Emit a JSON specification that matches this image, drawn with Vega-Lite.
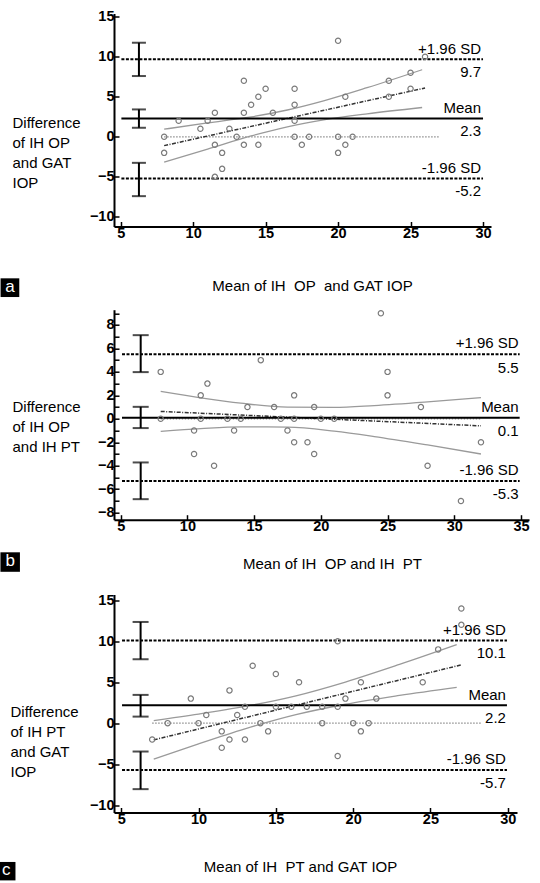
{
  "$schema": "https://vega.github.io/schema/vega-lite/v6.json",
  "background": "white",
  "padding": {"left": -3, "top": 8.5, "right": 0, "bottom": 0},
  "config": {
    "view": {"stroke": null},
    "font": "Liberation Sans",
    "axis": {
      "grid": false, "domainColor": "black", "domainWidth": 2, "tickColor": "black", "tickWidth": 1.5, "tickSize": -5,
      "labelColor": "black", "titleColor": "black", "labelFont": "Liberation Sans", "titleFont": "Liberation Sans",
      "labelFontSize": 14.5, "labelFontWeight": "bold", "titleFontSize": 15, "titleFontWeight": "normal", "labelPadding": 5
    },
    "text": {"font": "Liberation Sans", "fontSize": 15, "color": "black"}
  },
  "spacing": 19,
  "vconcat": [
    {
      "spacing": 10.2,
      "vconcat": [
        {
          "width": 377, "height": 213,
          "encoding": {
            "x": {"field": "x", "type": "quantitative", "scale": {"domain": [4.54, 30.55], "nice": false, "zero": false},
              "axis": {"values": [5, 10, 15, 20, 25, 30], "title": "Mean of IH\u00a0 OP\u00a0 and GAT IOP", "titleX": 198, "titleY": 59, "titleBaseline": "middle"}},
            "y": {"field": "y", "type": "quantitative", "scale": {"domain": [-11.2, 15.4], "nice": false, "zero": false},
              "axis": {"values": [-10, -5, 0, 5, 10, 15], "title": ["Difference", "of IH OP", "and GAT", "IOP"], "titleAngle": 0, "titleAlign": "left", "titleBaseline": "middle", "titleX": -102, "titleY": 109, "titleLineHeight": 20}}
          },
          "layer": [
            {"data": {"values": [{"x": 8, "x2": 27, "y": 0}]}, "mark": {"type": "rule", "color": "#8c8c8c", "strokeWidth": 1.2, "strokeDash": [1.5, 1.5]}, "encoding": {"x2": {"field": "x2"}}},
            {"data": {"values": [
              {"x": 8, "y": 0.95, "curve": "upper"}, {"x": 11, "y": 1.73, "curve": "upper"}, {"x": 14, "y": 2.49, "curve": "upper"}, {"x": 16.5, "y": 3.35, "curve": "upper"}, {"x": 19, "y": 4.49, "curve": "upper"}, {"x": 22, "y": 6.13, "curve": "upper"}, {"x": 25.8, "y": 8.38, "curve": "upper"},
              {"x": 8, "y": -3.15, "curve": "lower"}, {"x": 11, "y": -1.53, "curve": "lower"}, {"x": 14, "y": 0.11, "curve": "lower"}, {"x": 16.5, "y": 1.25, "curve": "lower"}, {"x": 19, "y": 2.11, "curve": "lower"}, {"x": 22, "y": 2.87, "curve": "lower"}, {"x": 25.8, "y": 3.66, "curve": "lower"}
            ]}, "mark": {"type": "line", "color": "#9a9a9a", "strokeWidth": 1.3, "interpolate": "monotone"}, "encoding": {"detail": {"field": "curve"}}},
            {"data": {"values": [{"x": 8, "y": -1.1}, {"x": 26, "y": 6.1}]}, "mark": {"type": "line", "color": "#333333", "strokeWidth": 1.5, "strokeDash": [4, 1.5, 1, 1.5]}, "encoding": {}},
            {"data": {"values": [
              {"y": 9.7, "x1": 5.05, "x2": 30, "top": "+1.96 SD", "bottom": "9.7", "kind": "limit"},
              {"y": 2.3, "x1": 5.05, "x2": 30, "top": "Mean", "bottom": "2.3", "kind": "mean"},
              {"y": -5.2, "x1": 5.05, "x2": 30, "top": "-1.96 SD", "bottom": "-5.2", "kind": "limit"}
            ]}, "layer": [
              {"transform": [{"filter": "datum.kind === 'limit'"}], "mark": {"type": "rule", "color": "black", "strokeWidth": 2, "strokeDash": [3, 1.5]}, "encoding": {"x": {"field": "x1", "type": "quantitative"}, "x2": {"field": "x2"}}},
              {"transform": [{"filter": "datum.kind === 'mean'"}], "mark": {"type": "rule", "color": "black", "strokeWidth": 2}, "encoding": {"x": {"field": "x1", "type": "quantitative"}, "x2": {"field": "x2"}}},
              {"mark": {"type": "text", "align": "right", "baseline": "middle", "dx": -2, "dy": -10}, "encoding": {"x": {"field": "x2", "type": "quantitative"}, "text": {"field": "top"}}},
              {"mark": {"type": "text", "align": "right", "baseline": "middle", "dx": -2, "dy": 13}, "encoding": {"x": {"field": "x2", "type": "quantitative"}, "text": {"field": "bottom"}}}
            ]},
            {"data": {"values": [{"x": 6.26, "y": 7.59, "y2": 11.75}, {"x": 6.26, "y": 1.13, "y2": 3.42}, {"x": 6.26, "y": -7.41, "y2": -3.25}]}, "layer": [
              {"mark": {"type": "rule", "color": "black", "strokeWidth": 2}, "encoding": {"y2": {"field": "y2"}}},
              {"mark": {"type": "tick", "orient": "horizontal", "color": "black", "thickness": 2, "size": 14}, "encoding": {}},
              {"mark": {"type": "tick", "orient": "horizontal", "color": "black", "thickness": 2, "size": 14}, "encoding": {"y": {"field": "y2", "type": "quantitative"}}}
            ]},
            {"data": {"values": [
              {"x": 8, "y": 0}, {"x": 8, "y": -2}, {"x": 9, "y": 2}, {"x": 10.5, "y": 1}, {"x": 11, "y": 2}, {"x": 11.5, "y": 3}, {"x": 11.5, "y": -1}, {"x": 11.5, "y": -5},
              {"x": 12, "y": -2}, {"x": 12, "y": -4}, {"x": 12.5, "y": 1}, {"x": 13, "y": 0}, {"x": 13.5, "y": 7}, {"x": 13.5, "y": 3}, {"x": 13.5, "y": -1}, {"x": 14, "y": 4},
              {"x": 14.5, "y": 5}, {"x": 14.5, "y": -1}, {"x": 15, "y": 6}, {"x": 15.5, "y": 3}, {"x": 17, "y": 6}, {"x": 17, "y": 4}, {"x": 17, "y": 2}, {"x": 17, "y": 0},
              {"x": 17.5, "y": -1}, {"x": 18, "y": 0}, {"x": 20, "y": 12}, {"x": 20, "y": 0}, {"x": 20, "y": -2}, {"x": 20.5, "y": 5}, {"x": 20.5, "y": -1}, {"x": 21, "y": 0},
              {"x": 23.5, "y": 7}, {"x": 23.5, "y": 5}, {"x": 25, "y": 8}, {"x": 25, "y": 6}, {"x": 26, "y": 10}
            ]}, "mark": {"type": "point", "shape": "circle", "filled": false, "size": 28, "stroke": "#7a7a7a", "strokeWidth": 1.2, "opacity": 1}},
            {"data": {"values": [{"label": "a", "x": -2.64, "y": -18.84}]}, "layer": [
              {"mark": {"type": "point", "shape": "square", "filled": true, "color": "black", "opacity": 1, "size": 350, "strokeWidth": 0}},
              {"mark": {"type": "text", "color": "white", "fontSize": 17, "align": "center", "baseline": "middle", "dy": -1}, "encoding": {"text": {"field": "label"}}}
            ]}
          ]
        },
        {
          "width": 415, "height": 210,
          "encoding": {
            "x": {"field": "x", "type": "quantitative", "scale": {"domain": [4.5, 35.6], "nice": false, "zero": false},
              "axis": {"values": [5, 10, 15, 20, 25, 30, 35], "title": "Mean of IH\u00a0 OP and IH\u00a0 PT", "titleX": 218, "titleY": 44, "titleBaseline": "middle"}},
            "y": {"field": "y", "type": "quantitative", "scale": {"domain": [-8.6, 9.3], "nice": false, "zero": false},
              "axis": {"values": [-8, -7, -6, -5, -4, -3, -2, -1, 0, 1, 2, 3, 4, 5, 6, 7, 8, 9], "labelExpr": "datum.value % 2 === 0 ? datum.label : ''", "title": ["Difference", "of IH OP", "and IH PT"], "titleAngle": 0, "titleAlign": "left", "titleBaseline": "middle", "titleX": -102, "titleY": 97, "titleLineHeight": 20}}
          },
          "layer": [
            {"data": {"values": [{"x": 8, "x2": 32, "y": 0}]}, "mark": {"type": "rule", "color": "#8c8c8c", "strokeWidth": 1.2, "strokeDash": [1.5, 1.5]}, "encoding": {"x2": {"field": "x2"}}},
            {"data": {"values": [
              {"x": 8, "y": 2.33, "curve": "upper"}, {"x": 11, "y": 1.79, "curve": "upper"}, {"x": 14, "y": 1.33, "curve": "upper"}, {"x": 17.5, "y": 0.99, "curve": "upper"}, {"x": 21, "y": 0.97, "curve": "upper"}, {"x": 24, "y": 1.13, "curve": "upper"}, {"x": 28, "y": 1.44, "curve": "upper"}, {"x": 32, "y": 1.8, "curve": "upper"},
              {"x": 8, "y": -1.07, "curve": "lower"}, {"x": 11, "y": -0.84, "curve": "lower"}, {"x": 14, "y": -0.69, "curve": "lower"}, {"x": 17.5, "y": -0.71, "curve": "lower"}, {"x": 21, "y": -1.05, "curve": "lower"}, {"x": 24, "y": -1.51, "curve": "lower"}, {"x": 28, "y": -2.23, "curve": "lower"}, {"x": 32, "y": -3.0, "curve": "lower"}
            ]}, "mark": {"type": "line", "color": "#9a9a9a", "strokeWidth": 1.3, "interpolate": "monotone"}, "encoding": {"detail": {"field": "curve"}}},
            {"data": {"values": [{"x": 8, "y": 0.63}, {"x": 32, "y": -0.6}]}, "mark": {"type": "line", "color": "#333333", "strokeWidth": 1.5, "strokeDash": [4, 1.5, 1, 1.5]}, "encoding": {}},
            {"data": {"values": [
              {"y": 5.5, "x1": 5.1, "x2": 34.9, "top": "+1.96 SD", "bottom": "5.5", "kind": "limit"},
              {"y": 0.1, "x1": 5.1, "x2": 34.9, "top": "Mean", "bottom": "0.1", "kind": "mean"},
              {"y": -5.3, "x1": 5.1, "x2": 34.9, "top": "-1.96 SD", "bottom": "-5.3", "kind": "limit"}
            ]}, "layer": [
              {"transform": [{"filter": "datum.kind === 'limit'"}], "mark": {"type": "rule", "color": "black", "strokeWidth": 2, "strokeDash": [3, 1.5]}, "encoding": {"x": {"field": "x1", "type": "quantitative"}, "x2": {"field": "x2"}}},
              {"transform": [{"filter": "datum.kind === 'mean'"}], "mark": {"type": "rule", "color": "black", "strokeWidth": 2}, "encoding": {"x": {"field": "x1", "type": "quantitative"}, "x2": {"field": "x2"}}},
              {"mark": {"type": "text", "align": "right", "baseline": "middle", "dx": -1, "dy": -11}, "encoding": {"x": {"field": "x2", "type": "quantitative"}, "text": {"field": "top"}}},
              {"mark": {"type": "text", "align": "right", "baseline": "middle", "dx": -1, "dy": 13.5}, "encoding": {"x": {"field": "x2", "type": "quantitative"}, "text": {"field": "bottom"}}}
            ]},
            {"data": {"values": [{"x": 6.5, "y": 3.98, "y2": 7.13}, {"x": 6.5, "y": -0.79, "y2": 1.02}, {"x": 6.5, "y": -6.85, "y2": -3.72}]}, "layer": [
              {"mark": {"type": "rule", "color": "black", "strokeWidth": 2}, "encoding": {"y2": {"field": "y2"}}},
              {"mark": {"type": "tick", "orient": "horizontal", "color": "black", "thickness": 2, "size": 16}, "encoding": {}},
              {"mark": {"type": "tick", "orient": "horizontal", "color": "black", "thickness": 2, "size": 16}, "encoding": {"y": {"field": "y2", "type": "quantitative"}}}
            ]},
            {"data": {"values": [
              {"x": 8, "y": 4}, {"x": 8, "y": 0}, {"x": 10.5, "y": -1}, {"x": 10.5, "y": -3}, {"x": 11, "y": 2}, {"x": 11, "y": 0}, {"x": 11.5, "y": 3}, {"x": 12, "y": -4},
              {"x": 13, "y": 0}, {"x": 13.5, "y": -1}, {"x": 14, "y": 0}, {"x": 14.5, "y": 1}, {"x": 15.5, "y": 5}, {"x": 16.5, "y": 1}, {"x": 17, "y": 0}, {"x": 17.5, "y": -1},
              {"x": 18, "y": 2}, {"x": 18, "y": 0}, {"x": 18, "y": -2}, {"x": 19, "y": -2}, {"x": 19.5, "y": 1}, {"x": 19.5, "y": -3}, {"x": 20, "y": 0}, {"x": 21, "y": 0},
              {"x": 24.5, "y": 9}, {"x": 25, "y": 4}, {"x": 25, "y": 2}, {"x": 27.5, "y": 1}, {"x": 28, "y": -4}, {"x": 30.5, "y": -7}, {"x": 32, "y": -2}
            ]}, "mark": {"type": "point", "shape": "circle", "filled": false, "size": 28, "stroke": "#7a7a7a", "strokeWidth": 1.2, "opacity": 1}},
            {"data": {"values": [{"label": "b", "x": -3.28, "y": -12.21}]}, "layer": [
              {"mark": {"type": "point", "shape": "square", "filled": true, "color": "black", "opacity": 1, "size": 380, "strokeWidth": 0}},
              {"mark": {"type": "text", "color": "white", "fontSize": 17, "align": "center", "baseline": "middle", "dy": -1}, "encoding": {"text": {"field": "label"}}}
            ]}
          ]
        }
      ]
    },
    {
      "width": 403, "height": 218,
      "encoding": {
        "x": {"field": "x", "type": "quantitative", "scale": {"domain": [4.53, 30.6], "nice": false, "zero": false},
          "axis": {"values": [5, 10, 15, 20, 25, 30], "title": "Mean of IH\u00a0 PT and GAT IOP", "titleX": 186, "titleY": 54, "titleBaseline": "middle"}},
        "y": {"field": "y", "type": "quantitative", "scale": {"domain": [-10.9, 15.7], "nice": false, "zero": false},
          "axis": {"values": [-10, -5, 0, 5, 10, 15], "title": ["Difference", "of IH PT", "and GAT", "IOP"], "titleAngle": 0, "titleAlign": "left", "titleBaseline": "middle", "titleX": -104, "titleY": 117, "titleLineHeight": 20}}
      },
      "layer": [
        {"data": {"values": [{"x": 7, "x2": 28.3, "y": 0}]}, "mark": {"type": "rule", "color": "#8c8c8c", "strokeWidth": 1.2, "strokeDash": [1.5, 1.5]}, "encoding": {"x2": {"field": "x2"}}},
        {"data": {"values": [
          {"x": 7.1, "y": 0.32, "curve": "upper"}, {"x": 10, "y": 1.11, "curve": "upper"}, {"x": 13, "y": 2.04, "curve": "upper"}, {"x": 16.3, "y": 3.34, "curve": "upper"}, {"x": 19.5, "y": 5.02, "curve": "upper"}, {"x": 23, "y": 7.16, "curve": "upper"}, {"x": 26.7, "y": 9.57, "curve": "upper"},
          {"x": 7.1, "y": -4.4, "curve": "lower"}, {"x": 10, "y": -2.52, "curve": "lower"}, {"x": 13, "y": -0.69, "curve": "lower"}, {"x": 16.3, "y": 1.04, "curve": "lower"}, {"x": 19.5, "y": 2.31, "curve": "lower"}, {"x": 23, "y": 3.39, "curve": "lower"}, {"x": 26.7, "y": 4.38, "curve": "lower"}
        ]}, "mark": {"type": "line", "color": "#9a9a9a", "strokeWidth": 1.3, "interpolate": "monotone"}, "encoding": {"detail": {"field": "curve"}}},
        {"data": {"values": [{"x": 7.1, "y": -2.04}, {"x": 27, "y": 7.11}]}, "mark": {"type": "line", "color": "#333333", "strokeWidth": 1.5, "strokeDash": [4, 1.5, 1, 1.5]}, "encoding": {}},
        {"data": {"values": [
          {"y": 10.1, "x1": 5.05, "x2": 29.95, "top": "+1.96 SD", "bottom": "10.1", "kind": "limit"},
          {"y": 2.2, "x1": 5.05, "x2": 29.95, "top": "Mean", "bottom": "2.2", "kind": "mean"},
          {"y": -5.7, "x1": 5.05, "x2": 29.95, "top": "-1.96 SD", "bottom": "-5.7", "kind": "limit"}
        ]}, "layer": [
          {"transform": [{"filter": "datum.kind === 'limit'"}], "mark": {"type": "rule", "color": "black", "strokeWidth": 2, "strokeDash": [3, 1.5]}, "encoding": {"x": {"field": "x1", "type": "quantitative"}, "x2": {"field": "x2"}}},
          {"transform": [{"filter": "datum.kind === 'mean'"}], "mark": {"type": "rule", "color": "black", "strokeWidth": 2}, "encoding": {"x": {"field": "x1", "type": "quantitative"}, "x2": {"field": "x2"}}},
          {"mark": {"type": "text", "align": "right", "baseline": "middle", "dx": -1, "dy": -10.5}, "encoding": {"x": {"field": "x2", "type": "quantitative"}, "text": {"field": "top"}}},
          {"mark": {"type": "text", "align": "right", "baseline": "middle", "dx": -1, "dy": 13}, "encoding": {"x": {"field": "x2", "type": "quantitative"}, "text": {"field": "bottom"}}}
        ]},
        {"data": {"values": [{"x": 6.25, "y": 7.8, "y2": 12.35}, {"x": 6.25, "y": 0.8, "y2": 3.45}, {"x": 6.25, "y": -8.05, "y2": -3.46}]}, "layer": [
          {"mark": {"type": "rule", "color": "black", "strokeWidth": 2}, "encoding": {"y2": {"field": "y2"}}},
          {"mark": {"type": "tick", "orient": "horizontal", "color": "black", "thickness": 2, "size": 16}, "encoding": {}},
          {"mark": {"type": "tick", "orient": "horizontal", "color": "black", "thickness": 2, "size": 16}, "encoding": {"y": {"field": "y2", "type": "quantitative"}}}
        ]},
        {"data": {"values": [
          {"x": 7, "y": -2}, {"x": 8, "y": 0}, {"x": 9.5, "y": 3}, {"x": 10, "y": 0}, {"x": 10.5, "y": 1}, {"x": 11.5, "y": -1}, {"x": 11.5, "y": -3}, {"x": 12, "y": 4},
          {"x": 12, "y": -2}, {"x": 12.5, "y": 1}, {"x": 13, "y": 2}, {"x": 13, "y": -2}, {"x": 13.5, "y": 7}, {"x": 14, "y": 0}, {"x": 14.5, "y": -1}, {"x": 15, "y": 6},
          {"x": 15, "y": 2}, {"x": 16, "y": 2}, {"x": 16.5, "y": 5}, {"x": 17, "y": 2}, {"x": 18, "y": 2}, {"x": 18, "y": 0}, {"x": 19, "y": 10}, {"x": 19, "y": 2},
          {"x": 19, "y": -4}, {"x": 19.5, "y": 3}, {"x": 20, "y": 0}, {"x": 20.5, "y": 5}, {"x": 20.5, "y": -1}, {"x": 21, "y": 0}, {"x": 21.5, "y": 3}, {"x": 24.5, "y": 5},
          {"x": 25.5, "y": 9}, {"x": 27, "y": 14}, {"x": 27, "y": 12}
        ]}, "mark": {"type": "point", "shape": "circle", "filled": false, "size": 28, "stroke": "#7a7a7a", "strokeWidth": 1.2, "opacity": 1}},
        {"data": {"values": [{"label": "c", "x": -2.44, "y": -18.06}]}, "layer": [
          {"mark": {"type": "point", "shape": "square", "filled": true, "color": "black", "opacity": 1, "size": 340, "strokeWidth": 0}},
          {"mark": {"type": "text", "color": "white", "fontSize": 17, "align": "center", "baseline": "middle", "dy": -1}, "encoding": {"text": {"field": "label"}}}
        ]}
      ]
    }
  ]
}
